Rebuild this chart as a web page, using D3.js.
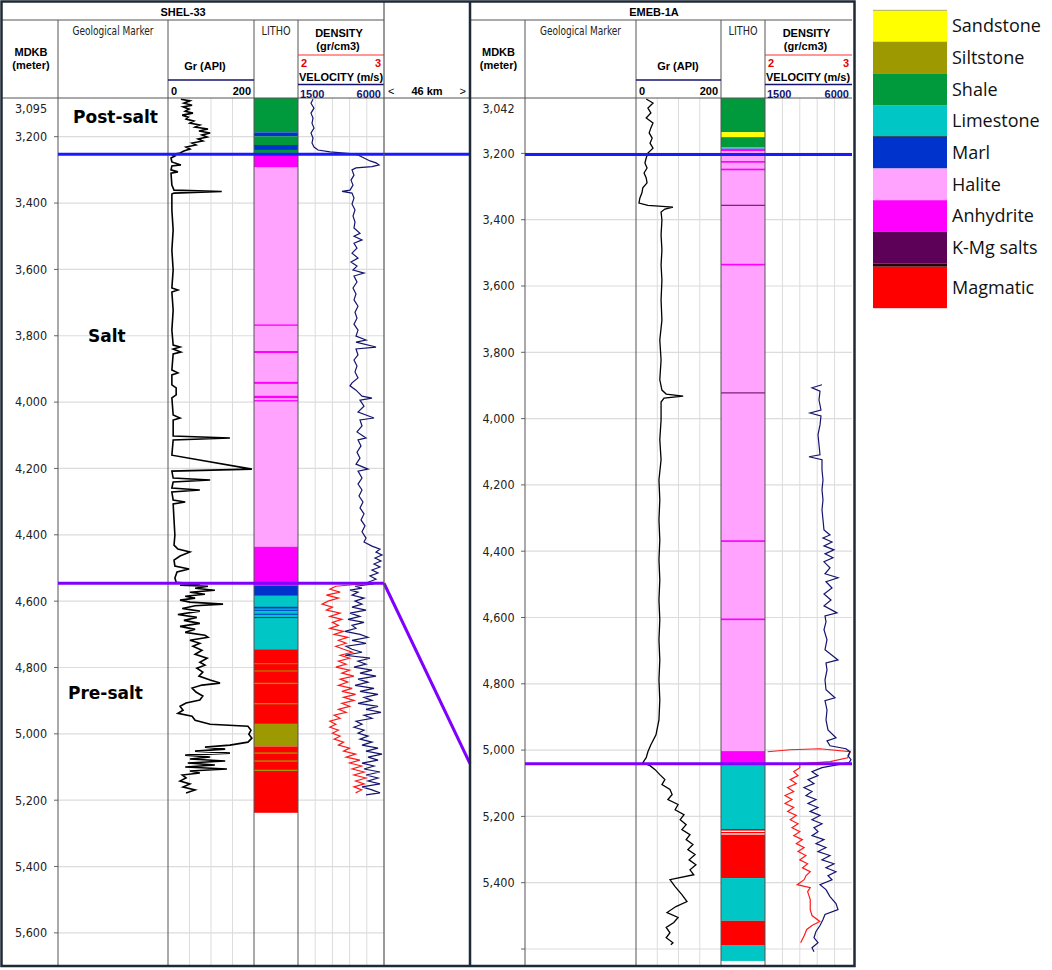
<!DOCTYPE html>
<html>
<head>
<meta charset="utf-8">
<script src="https://cdn.jsdelivr.net/npm/d3@7"></script>
<style>
body { margin: 0; background: #fff; }
text { font-family: "Liberation Sans", Arial, sans-serif; }
</style>
</head>
<body>
<div id="chart"></div>
<script>
// lithology legend
const lithoTypes = ["Sandstone", "Siltstone", "Shale", "Limestone", "Marl", "Halite", "Anhydrite", "K-Mg salts", "Magmatic"];
const lithoColors = ["#ffff00", "#9c9a00", "#009a3c", "#00c6c6", "#0033cc", "#ffa3ff", "#ff00ff", "#5c0058", "#ff0000"];

// depth ticks (m)
const shelTicks = [3200, 3400, 3600, 3800, 4000, 4200, 4400, 4600, 4800, 5000, 5200, 5400, 5600];
const emebTicks = [3200, 3400, 3600, 3800, 4000, 4200, 4400, 4600, 4800, 5000, 5200, 5400, 5600];
const shelTopDepth = 3095;
const emebTopDepth = 3042;

// markers: top salt / base salt (m)
const shelMarkers = [3253, 4546];
const emebMarkers = [3203, 5041];
const formations = [["Post-salt", 3141], ["Salt", 3801], ["Pre-salt", 4876]];

// SHEL-33 lithology [top, base, type]
const shelLitho = [
  [3083, 3187, "Shale"], [3187, 3199, "Marl"], [3199, 3225, "Shale"], [3225, 3240, "Marl"],
  [3240, 3249, "Shale"], [3249, 3293, "Anhydrite"], [3293, 4436, "Halite"],
  [3766, 3770, "Anhydrite"], [3846, 3852, "Anhydrite"], [3939, 3945, "Anhydrite"],
  [3981, 3988, "Anhydrite"], [3994, 3998, "Anhydrite"],
  [4436, 4554, "Anhydrite"], [4554, 4584, "Marl"], [4584, 4745, "Limestone"],
  [4617, 4622, "Marl"], [4626, 4629, "Marl"], [4638, 4641, "Marl"], [4648, 4651, "Marl"],
  [4745, 4970, "Magmatic"], [4787, 4790, "Siltstone"], [4809, 4812, "Siltstone"],
  [4846, 4850, "Siltstone"], [4907, 4911, "Siltstone"],
  [4970, 5038, "Siltstone"], [5038, 5238, "Magmatic"],
  [5056, 5060, "Siltstone"], [5080, 5084, "Siltstone"], [5108, 5112, "Siltstone"]
];

// EMEB-1A lithology
const emebLitho = [
  [3033, 3136, "Shale"], [3136, 3151, "Sandstone"], [3151, 3182, "Shale"], [3182, 3186, "Limestone"],
  [3186, 3193, "Anhydrite"], [3193, 5003, "Halite"],
  [3223, 3228, "Anhydrite"], [3246, 3251, "Anhydrite"], [3355, 3357, "K-Mg salts"],
  [3533, 3538, "Anhydrite"], [3921, 3923, "K-Mg salts"], [4367, 4372, "Anhydrite"], [4603, 4608, "Anhydrite"],
  [5003, 5045, "Anhydrite"], [5045, 5238, "Limestone"],
  [5238, 5243, "Magmatic"], [5247, 5251, "Magmatic"], [5255, 5386, "Magmatic"],
  [5386, 5515, "Limestone"], [5515, 5588, "Magmatic"], [5588, 5636, "Limestone"]
];

// SHEL-33 GR (API) [depth, value]
const shelGr = [
  [3087,30],[3092,51],[3099,37],[3105,56],[3110,35],[3117,49],[3123,40],[3129,58],[3135,33],[3141,47],
  [3147,42],[3153,60],[3159,51],[3165,74],[3171,63],[3177,93],[3183,72],[3189,98],[3195,79],[3201,91],
  [3207,70],[3213,81],[3219,56],[3225,65],[3231,42],[3237,51],[3243,37],[3249,28],[3254,9],[3258,16],
  [3264,7],[3276,9],[3285,30],[3288,9],[3300,7],[3306,23],[3310,7],[3346,9],[3361,14],[3365,125],
  [3370,14],[3373,9],[3421,9],[3481,12],[3542,9],[3602,12],[3656,9],[3662,23],[3668,9],[3723,12],
  [3783,9],[3828,12],[3834,28],[3840,12],[3849,30],[3855,12],[3903,9],[3912,23],[3918,9],[3948,9],
  [3957,19],[3978,19],[3987,9],[4039,12],[4048,28],[4054,12],[4102,12],[4108,144],[4114,12],[4160,9],
  [4202,195],[4208,9],[4229,12],[4235,98],[4241,12],[4259,9],[4265,74],[4271,9],[4295,12],[4301,40],
  [4307,12],[4355,14],[4401,16],[4431,14],[4443,23],[4452,51],[4464,28],[4476,14],[4494,16],[4503,49],
  [4512,21],[4530,16],[4543,19],[4549,74],[4552,28],[4555,93],[4561,63],[4567,109],[4573,51],[4579,86],
  [4585,40],[4591,63],[4597,28],[4603,51],[4609,128],[4614,63],[4622,33],[4630,74],[4640,23],[4649,67],
  [4658,37],[4667,74],[4676,28],[4685,63],[4694,40],[4703,86],[4709,93],[4718,51],[4727,74],[4736,58],
  [4748,79],[4760,63],[4772,91],[4784,74],[4793,86],[4802,67],[4814,81],[4826,72],[4838,98],[4847,121],
  [4853,79],[4862,56],[4874,65],[4886,81],[4898,74],[4907,42],[4917,28],[4929,35],[4938,23],[4947,56],
  [4959,63],[4971,98],[4977,186],[4989,193],[5001,188],[5013,195],[5025,186],[5034,144],[5040,86],[5046,133],
  [5052,63],[5058,144],[5064,40],[5070,98],[5076,51],[5082,133],[5088,46],[5094,109],[5100,40],[5106,137],
  [5112,51],[5118,74],[5124,33],[5133,42],[5142,28],[5151,51],[5160,35],[5169,63],[5178,42]
];

// SHEL-33 velocity (m/s)
const shelVel = [
  [3087,2285],[3099,2180],[3114,2337],[3129,2180],[3144,2285],[3159,2233],[3174,2337],[3189,2180],[3204,2285],[3219,2233],
  [3231,2337],[3240,2547],[3246,3175],[3251,4221],[3255,4640],[3261,4849],[3267,5058],[3273,5268],[3279,5582],[3285,5739],
  [3290,5372],[3294,4535],[3300,4326],[3316,4430],[3331,4274],[3346,4378],[3361,4221],[3365,3803],[3370,4326],[3385,4430],
  [3403,4326],[3421,4483],[3439,4378],[3457,4483],[3475,4430],[3491,4744],[3500,4430],[3511,4849],[3521,4430],[3536,4587],
  [3551,4326],[3566,4640],[3578,4274],[3590,4587],[3602,4378],[3611,4954],[3620,4430],[3638,4587],[3656,4378],[3674,4535],
  [3692,4430],[3711,4640],[3729,4483],[3747,4587],[3765,4430],[3783,4640],[3801,4535],[3813,5058],[3819,4535],[3834,5582],
  [3840,4535],[3858,4640],[3873,4430],[3891,4587],[3909,4483],[3927,4640],[3942,4326],[3951,4221],[3964,4535],[3982,4849],
  [3988,5372],[3994,4744],[4012,4954],[4030,4640],[4048,5477],[4054,4744],[4072,4849],[4090,4587],[4108,5058],[4114,4640],
  [4132,4797],[4151,4587],[4169,4744],[4187,4535],[4202,5163],[4208,4640],[4229,4849],[4247,4640],[4265,4849],[4283,4692],
  [4301,4901],[4319,4744],[4337,4954],[4355,4797],[4373,5006],[4391,4849],[4410,5058],[4422,4954],[4434,5372],[4443,5791],
  [4452,5582],[4461,5896],[4470,5530],[4479,5843],[4488,5477],[4497,5791],[4506,5372],[4515,5687],[4524,5268],[4534,5582],
  [4543,5163],[4549,5372],[4555,4483],[4561,4849],[4567,4221],[4573,4640],[4582,4326],[4591,4954],[4600,4483],[4609,4849],
  [4618,4326],[4627,5058],[4636,4221],[4646,4744],[4655,4117],[4664,4954],[4673,4326],[4682,4535],[4691,3960],[4700,4744],
  [4709,5163],[4718,4326],[4727,5058],[4736,4012],[4745,4326],[4754,4849],[4763,3960],[4772,5268],[4781,4640],[4790,5058],
  [4799,4430],[4808,5372],[4817,4744],[4826,5582],[4835,4640],[4844,5163],[4854,4483],[4863,5477],[4872,4744],[4881,5687],
  [4890,4954],[4899,5372],[4908,4640],[4917,5687],[4926,5058],[4935,5843],[4944,4954],[4953,5372],[4962,4535],[4971,4849],
  [4980,4430],[4989,4954],[4998,4640],[5007,5163],[5016,4744],[5025,5372],[5034,4849],[5043,5687],[5052,5058],[5061,5896],
  [5070,5163],[5079,5687],[5088,4849],[5097,5477],[5106,4954],[5115,5791],[5124,5058],[5133,5687],[5142,5163],[5151,5791],
  [5160,4849],[5169,5372],[5178,5791],[5184,5058]
];

// SHEL-33 density (g/cm3)
const shelDen = [
  [4546,2.84],[4555,2.44],[4564,2.37],[4573,2.49],[4582,2.33],[4591,2.47],[4600,2.35],[4609,2.28],[4618,2.40],[4627,2.33],
  [4636,2.49],[4646,2.37],[4655,2.51],[4664,2.40],[4673,2.47],[4682,2.37],[4691,2.53],[4700,2.42],[4709,2.58],[4718,2.47],
  [4727,2.56],[4736,2.44],[4745,2.53],[4754,2.63],[4763,2.49],[4772,2.60],[4781,2.47],[4790,2.56],[4799,2.44],[4808,2.60],
  [4817,2.51],[4826,2.65],[4835,2.49],[4844,2.58],[4854,2.47],[4863,2.63],[4872,2.51],[4881,2.67],[4890,2.53],[4899,2.65],
  [4908,2.51],[4917,2.60],[4926,2.47],[4935,2.56],[4944,2.42],[4953,2.49],[4962,2.37],[4971,2.44],[4980,2.37],[4989,2.47],
  [4998,2.40],[5007,2.49],[5016,2.42],[5025,2.53],[5034,2.47],[5043,2.60],[5052,2.53],[5061,2.67],[5070,2.56],[5079,2.72],
  [5088,2.60],[5097,2.74],[5106,2.63],[5115,2.77],[5124,2.65],[5133,2.79],[5142,2.67],[5151,2.77],[5160,2.65],[5169,2.74],
  [5178,2.67]
];

// EMEB-1A GR (API)
const emebGr = [
  [3036,24],[3048,40],[3063,28],[3078,35],[3093,24],[3108,40],[3123,35],[3138,31],[3154,38],[3169,33],
  [3184,40],[3199,28],[3214,24],[3229,21],[3244,26],[3259,19],[3274,24],[3289,26],[3304,16],[3319,14],
  [3335,9],[3350,7],[3357,28],[3362,87],[3368,68],[3377,59],[3401,61],[3446,59],[3491,61],[3537,59],
  [3582,61],[3642,59],[3703,61],[3763,56],[3823,59],[3883,56],[3914,61],[3926,71],[3932,111],[3938,66],
  [3950,59],[4004,59],[4064,56],[4124,59],[4185,54],[4245,56],[4305,54],[4366,56],[4426,54],[4486,56],
  [4547,54],[4607,56],[4667,54],[4728,56],[4788,54],[4849,56],[4909,54],[4954,47],[4984,35],[5005,28],
  [5023,24],[5038,16],[5047,33],[5059,45],[5074,56],[5089,68],[5104,61],[5119,80],[5134,85],[5149,75],
  [5164,99],[5180,92],[5195,113],[5210,104],[5225,118],[5240,108],[5255,127],[5270,118],[5285,134],[5300,122],
  [5315,139],[5331,125],[5346,141],[5361,127],[5376,136],[5391,80],[5412,92],[5436,108],[5457,120],[5472,94],
  [5490,73],[5505,99],[5520,89],[5535,71],[5551,80],[5566,71],[5581,87],[5587,82]
];

// EMEB-1A velocity (m/s)
const emebVel = [
  [3898,4448],[3907,3931],[3917,4345],[3944,4293],[3974,4396],[3983,3827],[3992,4396],[4019,4345],[4049,4241],[4079,4293],
  [4109,4345],[4115,3776],[4124,4448],[4155,4448],[4185,4500],[4215,4448],[4245,4500],[4275,4448],[4305,4500],[4336,4551],
  [4351,4862],[4360,4500],[4372,4965],[4384,4551],[4396,5069],[4408,4603],[4420,5017],[4432,4551],[4450,4862],[4468,4603],
  [4480,5276],[4492,4655],[4511,4965],[4529,4551],[4547,4914],[4565,4551],[4586,5224],[4595,4603],[4613,4655],[4637,4551],
  [4667,4707],[4697,4603],[4728,5276],[4737,4655],[4758,4707],[4788,4603],[4818,4655],[4842,5120],[4851,4603],[4879,4707],
  [4909,4655],[4939,4758],[4963,5172],[4972,4707],[4987,4862],[4996,5689],[5005,5896],[5017,5793],[5029,5948],[5038,5844],
  [5053,4448],[5065,3931],[5077,4241],[5089,3724],[5101,4034],[5113,3517],[5125,3931],[5137,3620],[5149,4138],[5161,3724],
  [5173,4241],[5185,3827],[5197,4345],[5210,3931],[5222,4448],[5234,4034],[5246,4241],[5258,3931],[5270,4551],[5282,4138],
  [5294,4655],[5306,4241],[5318,4862],[5331,4448],[5343,5069],[5355,4655],[5367,5172],[5379,4758],[5391,4965],[5406,4345],
  [5421,4655],[5442,4862],[5463,5172],[5481,5276],[5496,4603],[5511,4500],[5529,4345],[5547,4138],[5566,4034],[5581,4241],
  [5596,3931],[5608,4034]
];

// EMEB-1A density (g/cm3)
const emebDen = [
  [5005,2.03],[4999,2.29],[4996,2.63],[5005,2.98],[5023,2.95],[5035,2.75],[5041,2.40],
  [5053,2.40],[5065,2.33],[5077,2.38],[5089,2.29],[5101,2.36],[5113,2.26],[5125,2.33],[5137,2.23],[5149,2.31],
  [5161,2.23],[5173,2.33],[5185,2.26],[5197,2.36],[5210,2.29],[5222,2.38],[5234,2.31],[5246,2.40],[5258,2.33],
  [5270,2.43],[5282,2.36],[5294,2.45],[5306,2.38],[5318,2.47],[5331,2.40],[5343,2.49],[5355,2.43],[5367,2.52],
  [5379,2.47],[5391,2.45],[5406,2.37],[5415,2.52],[5427,2.49],[5451,2.52],[5481,2.52],[5499,2.54],[5517,2.63],
  [5529,2.54],[5541,2.48],[5560,2.45],[5581,2.41]
];

// ---------------- layout ----------------
const W = 1052, H = 970;
const yTop = 98, yBottom = 965;
const colorOf = t => lithoColors[lithoTypes.indexOf(t)];

const svg = d3.select("#chart").append("svg")
    .attr("width", W)
    .attr("height", H);

const wells = [
  { name: "SHEL-33", titleX: 183, cols: [2, 58, 168, 254, 298, 384], grTitleX: 205,
    y: d3.scaleLinear().domain([3200, 5600]).range([136.7, 932.9]),
    ticks: shelTicks, topDepth: shelTopDepth, litho: shelLitho,
    gr: shelGr, vel: shelVel, den: shelDen, markers: shelMarkers, markerEnd: 470 },
  { name: "EMEB-1A", titleX: 654, cols: [470, 525, 636, 721, 765, 852], grTitleX: 678,
    y: d3.scaleLinear().domain([3200, 5400]).range([153.4, 882.7]),
    ticks: emebTicks, topDepth: emebTopDepth, litho: emebLitho,
    gr: emebGr, vel: emebVel, den: emebDen, markers: emebMarkers, markerEnd: 852 }
];

svg.append("defs").append("clipPath").attr("id", "dataClip")
  .append("rect").attr("x", 0).attr("y", yTop).attr("width", W).attr("height", yBottom - yTop);

const fmt = d3.format(",");
const narrow = "'Liberation Sans Narrow','DejaVu Sans Condensed',sans-serif";

function drawWell(w) {
    const [x0, c1, c2, c3, c4, x1] = w.cols;
    const g = svg.append("g");
    const y = w.y;

    const xGr = d3.scaleLinear().domain([0, 200]).range([c2, c3]);
    const xVel = d3.scaleLinear().domain([1500, 6000]).range([c4, x1]);
    const xDen = d3.scaleLinear().domain([2, 3]).range([c4, x1]);

    // vertical grid in tracks
    const vg = g.append("g").attr("stroke", "#dcdcdc").attr("stroke-width", 1);
    d3.range(1, 4).forEach(i => {
        const x = c2 + (c3 - c2) * i / 4;
        vg.append("line").attr("x1", x).attr("x2", x).attr("y1", yTop).attr("y2", yBottom);
    });
    d3.range(1, 5).forEach(i => {
        const x = c4 + (x1 - c4) * i / 5;
        vg.append("line").attr("x1", x).attr("x2", x).attr("y1", yTop).attr("y2", yBottom);
    });

    // horizontal grid + depth labels
    w.ticks.forEach(t => {
        const yy = y(t);
        g.append("line").attr("x1", c1).attr("x2", x1).attr("y1", yy).attr("y2", yy)
            .attr("stroke", "#dcdcdc").attr("stroke-width", 1.2);
        g.append("line").attr("x1", c1 - 4).attr("x2", c1).attr("y1", yy).attr("y2", yy)
            .attr("stroke", "#666").attr("stroke-width", 1);
        if (yy < yBottom - 20) {
            g.append("text").attr("x", (x0 + c1) / 2 + 1).attr("y", yy)
                .attr("dy", "0.35em").attr("text-anchor", "middle")
                .style("font-family", narrow)
                .style("font-size", "12.5px").attr("fill", "#222")
                .text(fmt(t));
        }
    });
    g.append("text").attr("x", (x0 + c1) / 2 + 1).attr("y", yTop + 11)
        .attr("dy", "0.35em").attr("text-anchor", "middle")
        .style("font-family", narrow)
        .style("font-size", "12.5px").attr("fill", "#222")
        .text(fmt(w.topDepth));

    // lithology
    const lg = g.append("g").attr("clip-path", "url(#dataClip)");
    lg.selectAll("rect").data(w.litho).enter().append("rect")
        .attr("x", c3).attr("width", c4 - c3)
        .attr("y", d => y(d[0]))
        .attr("height", d => Math.max(1, y(d[1]) - y(d[0])))
        .attr("fill", d => colorOf(d[2]));

    // curves
    const cg = g.append("g").attr("clip-path", "url(#dataClip)").attr("fill", "none");
    cg.append("path").datum(w.gr)
        .attr("d", d3.line().x(d => xGr(d[1])).y(d => y(d[0])))
        .attr("stroke", "#000").attr("stroke-width", w.name === "SHEL-33" ? 1.6 : 1.3);
    cg.append("path").datum(w.den)
        .attr("d", d3.line().x(d => xDen(d[1])).y(d => y(d[0])))
        .attr("stroke", "#ff1a1a").attr("stroke-width", 1.2);
    cg.append("path").datum(w.vel)
        .attr("d", d3.line().x(d => xVel(d[1])).y(d => y(d[0])))
        .attr("stroke", "#14146e").attr("stroke-width", 1.2);

    // column borders
    const bg = g.append("g").attr("stroke", "#555").attr("stroke-width", 1);
    [c1, c2, c3, c4].forEach(x => {
        bg.append("line").attr("x1", x).attr("x2", x).attr("y1", 20).attr("y2", yBottom);
    });
    bg.append("line").attr("x1", x0).attr("x2", x1).attr("y1", 20).attr("y2", 20);
    bg.append("line").attr("x1", x0).attr("x2", x1).attr("y1", yTop).attr("y2", yTop);

    // header texts
    const bold = (x, yy, s, anchor, col) => g.append("text").attr("x", x).attr("y", yy)
        .attr("text-anchor", anchor || "middle").attr("dy", "0.35em")
        .style("font-size", "11px").style("font-weight", "bold")
        .attr("fill", col || "#000").text(s);
    const plain = (x, yy, s, len) => g.append("text").attr("x", x).attr("y", yy)
        .attr("text-anchor", "middle").attr("dy", "0.35em")
        .style("font-family", narrow)
        .style("font-size", "12px").attr("fill", "#222")
        .attr("textLength", len).attr("lengthAdjust", "spacingAndGlyphs").text(s);

    bold(w.titleX, 12, w.name);
    bold((x0 + c1) / 2 + 1, 52, "MDKB");
    bold((x0 + c1) / 2 + 1, 65, "(meter)");
    plain((c1 + c2) / 2, 31, "Geological Marker", 81);
    plain((c3 + c4) / 2, 31, "LITHO", 29);
    bold(w.grTitleX, 66, "Gr (API)");
    g.append("line").attr("x1", c2).attr("x2", c3).attr("y1", 80).attr("y2", 80)
        .attr("stroke", "#14146e").attr("stroke-width", 1.5);
    bold(c2 + 3, 91, "0", "start");
    bold(c3 - 3, 91, "200", "end");
    bold((c4 + x1) / 2 - 2, 33, "DENSITY");
    bold((c4 + x1) / 2 - 3, 46, "(gr/cm3)");
    g.append("line").attr("x1", c4).attr("x2", x1).attr("y1", 55).attr("y2", 55)
        .attr("stroke", "#ff3030").attr("stroke-width", 1.2);
    bold(c4 + 3, 63, "2", "start", "#e00000");
    bold(x1 - 3, 63, "3", "end", "#e00000");
    bold(c4 + 1, 77, "VELOCITY (m/s)", "start");
    g.append("line").attr("x1", c4).attr("x2", x1).attr("y1", 84.5).attr("y2", 84.5)
        .attr("stroke", "#14146e").attr("stroke-width", 1.5);
    bold(c4 + 2, 94, "1500", "start", "#14146e");
    bold(x1 - 3, 94, "6000", "end", "#14146e");

    // salt markers
    const [topSalt, baseSalt] = w.markers;
    g.append("line").attr("x1", c1).attr("x2", w.markerEnd)
        .attr("y1", y(topSalt)).attr("y2", y(topSalt))
        .attr("stroke", "#1a1aff").attr("stroke-width", 3);
    g.append("line").attr("x1", c1).attr("x2", x1)
        .attr("y1", y(baseSalt)).attr("y2", y(baseSalt))
        .attr("stroke", "#8000ff").attr("stroke-width", 3);
    return { y, baseSalt, x1 };
}

const leftWell = drawWell(wells[0]);
const rightWell = drawWell(wells[1]);

// formation names
formations.forEach(([name, d], i) => {
    svg.append("text").attr("x", [73, 88, 68][i]).attr("y", leftWell.y(d)).attr("dy", "0.35em")
        .style("font-family", "'DejaVu Sans',sans-serif").style("font-weight", "bold")
        .style("font-size", "17px").attr("fill", "#000").text(name);
});

// correlation of base salt across the gap
svg.append("line")
    .attr("x1", leftWell.x1).attr("y1", leftWell.y(leftWell.baseSalt))
    .attr("x2", 470).attr("y2", rightWell.y(rightWell.baseSalt))
    .attr("stroke", "#8000ff").attr("stroke-width", 3);

// gap column
svg.append("line").attr("x1", 384).attr("x2", 470).attr("y1", yTop).attr("y2", yTop)
    .attr("stroke", "#555").attr("stroke-width", 1);
svg.append("line").attr("x1", 384).attr("x2", 384).attr("y1", 2).attr("y2", yBottom)
    .attr("stroke", "#555").attr("stroke-width", 1.2);
svg.append("line").attr("x1", 470).attr("x2", 470).attr("y1", 2).attr("y2", yBottom)
    .attr("stroke", "#1e2a36").attr("stroke-width", 2.5);
svg.append("text").attr("x", 388).attr("y", 91).attr("dy", "0.35em")
    .style("font-size", "11px").text("<");
svg.append("text").attr("x", 427).attr("y", 91).attr("dy", "0.35em").attr("text-anchor", "middle")
    .style("font-size", "11px").style("font-weight", "bold").text("46 km");
svg.append("text").attr("x", 466).attr("y", 91).attr("dy", "0.35em").attr("text-anchor", "end")
    .style("font-size", "11px").text(">");

// outer frame
svg.append("rect").attr("x", 1.5).attr("y", 1.5).attr("width", 853).attr("height", yBottom - 0.5)
    .attr("fill", "none").attr("stroke", "#1e2a36").attr("stroke-width", 2.5);

// legend
const leg = svg.append("g").attr("transform", "translate(873,10)");
lithoTypes.forEach((t, i) => {
    const h = i === 8 ? 41.6 : 31.7;
    const yy = i === 8 ? 8 * 31.7 + 3 : i * 31.7;
    leg.append("rect").attr("x", 0).attr("y", yy).attr("width", 74).attr("height", h)
        .attr("fill", lithoColors[i]);
    leg.append("text").attr("x", 79).attr("y", yy + h / 2).attr("dy", "0.35em")
        .style("font-family", "'Open Sans','Noto Sans',sans-serif").style("font-size", "18px")
        .attr("fill", "#111").text(t);
});
leg.append("line").attr("x1", 0).attr("x2", 74).attr("y1", 0.3).attr("y2", 0.3).attr("stroke", "#999").attr("stroke-width", 0.8);
leg.append("line").attr("x1", 0).attr("x2", 74).attr("y1", 4 * 31.7).attr("y2", 4 * 31.7).attr("stroke", "#334").attr("stroke-width", 1.2);
leg.append("rect").attr("x", 0).attr("y", 8 * 31.7).attr("width", 74).attr("height", 3).attr("fill", "#2a0008");
</script>
</body>
</html>
